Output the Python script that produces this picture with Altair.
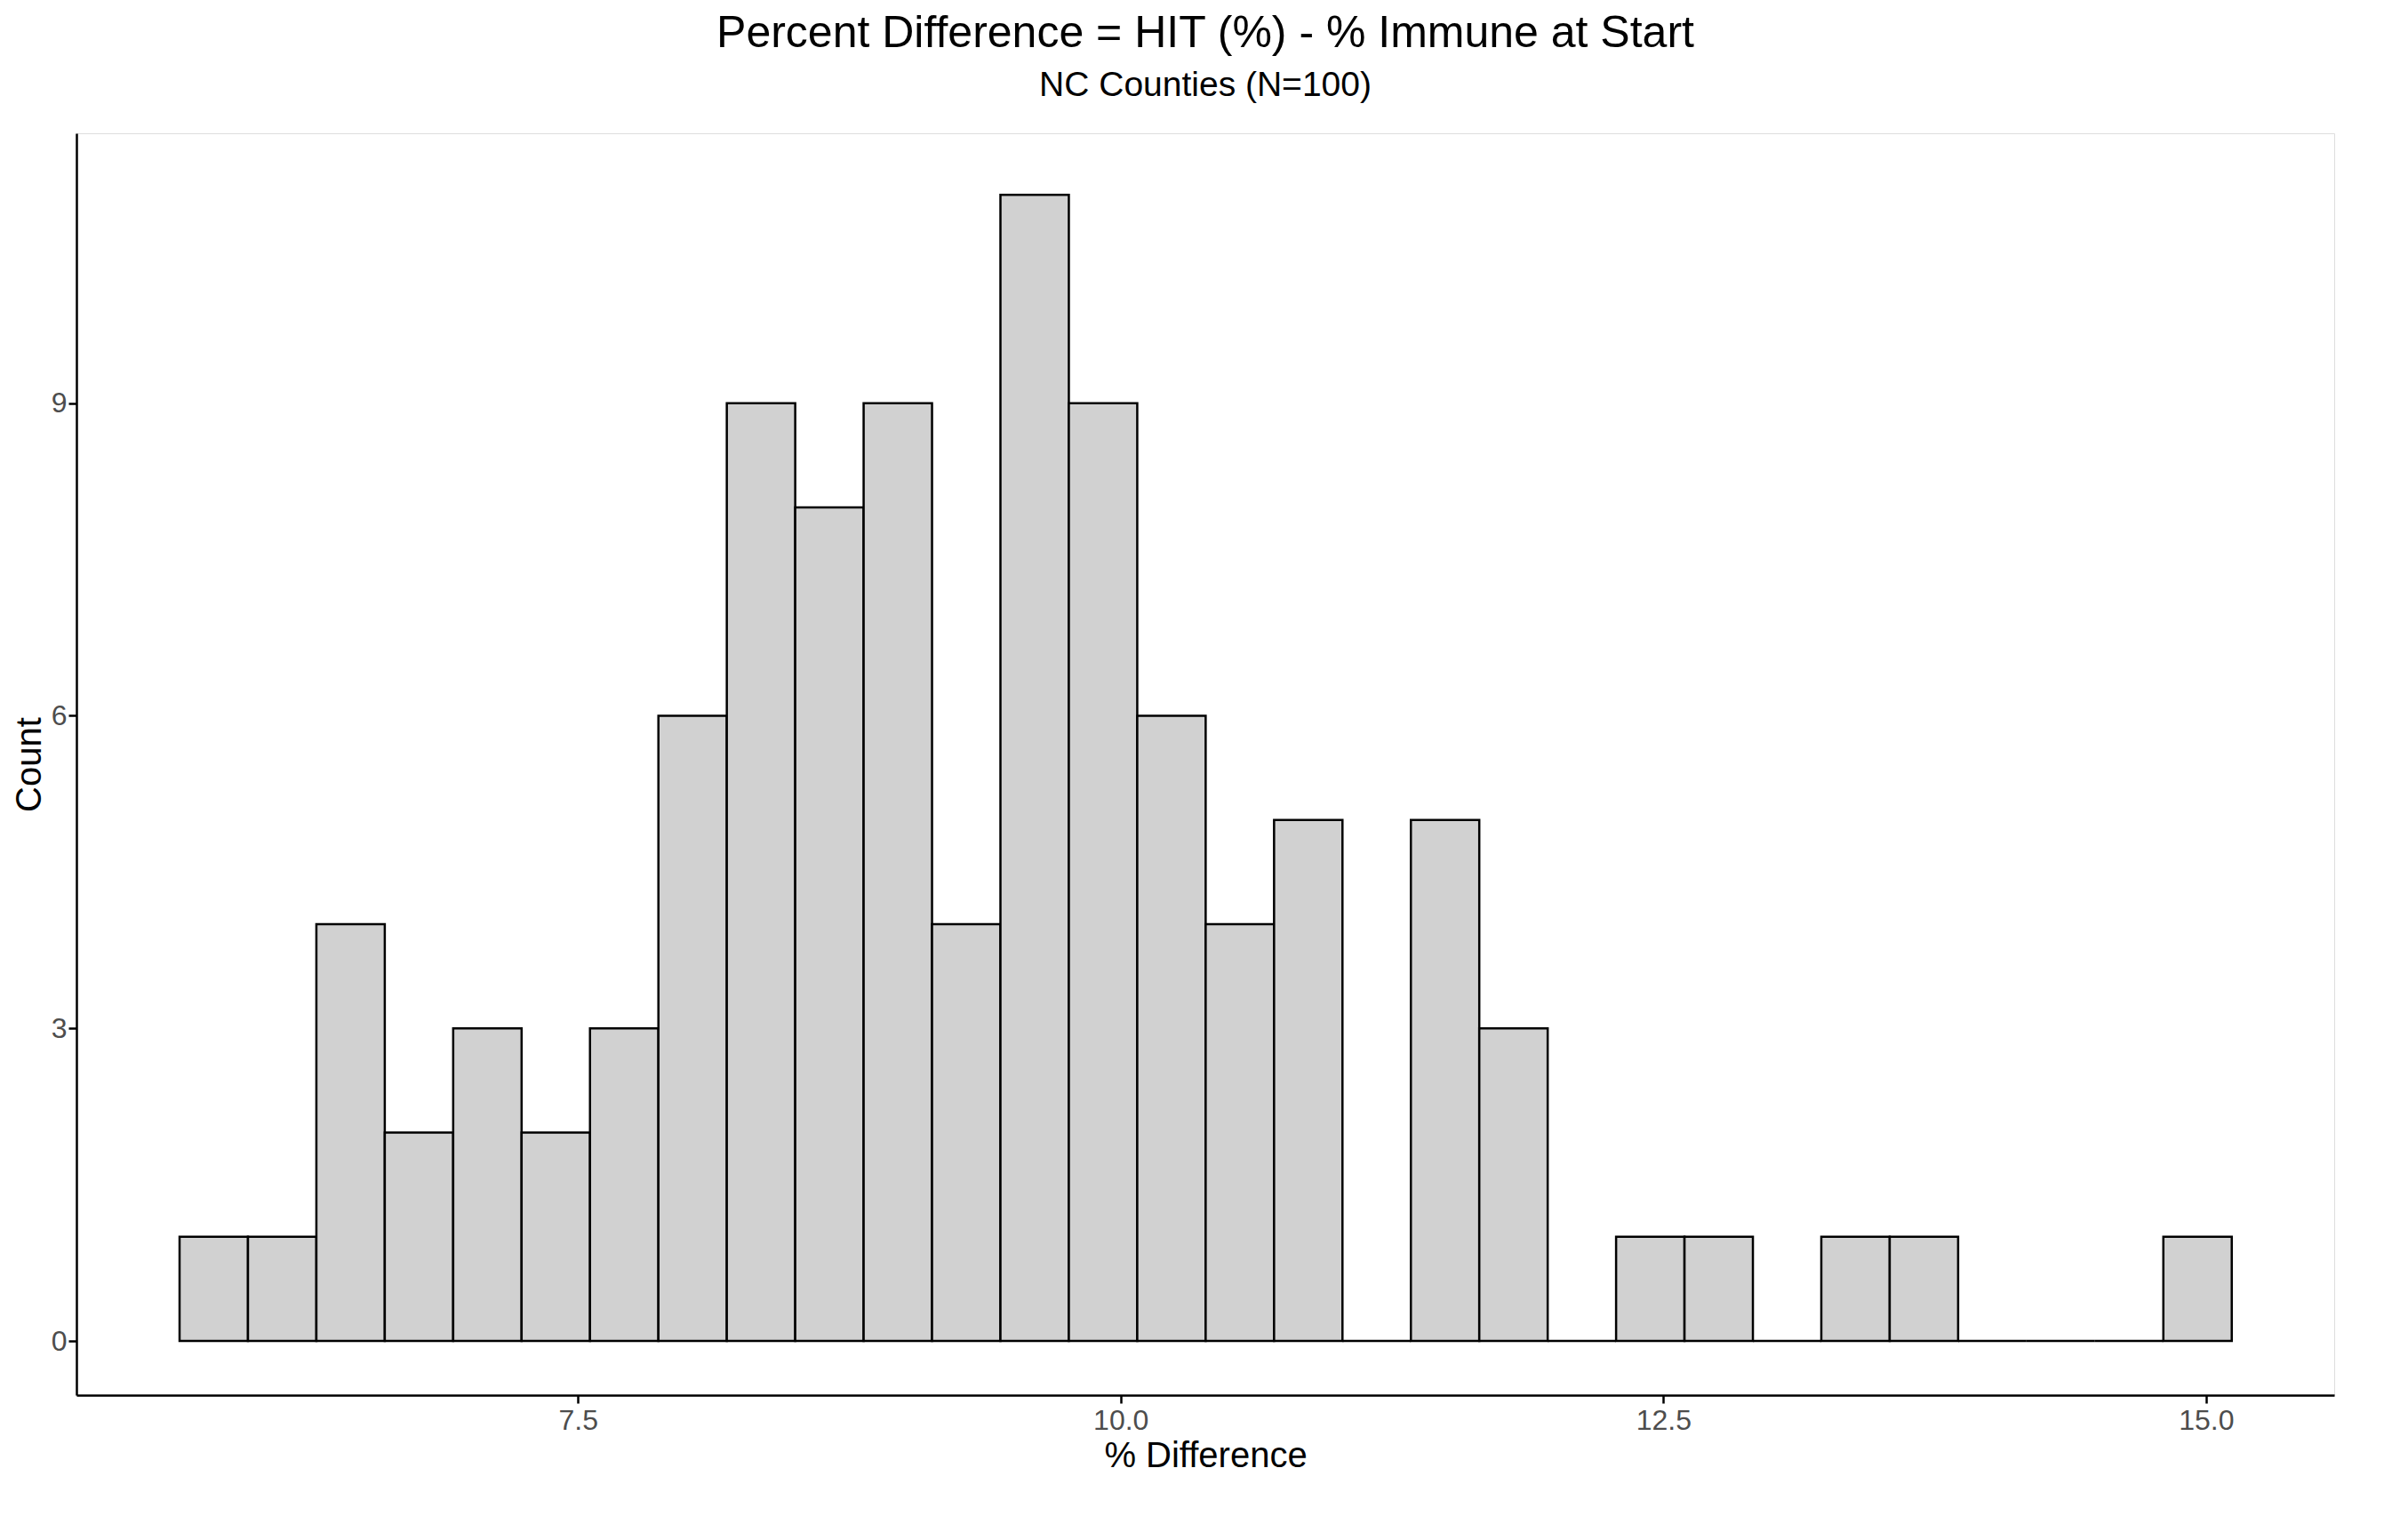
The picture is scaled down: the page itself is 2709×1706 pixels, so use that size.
import altair as alt
import pandas as pd

counts = [1,1,4,2,3,2,3,6,9,8,9,4,11,9,6,4,5,0,5,3,0,1,1,0,1,1,0,0,0,1]
bin_start = 5.665
bin_width = 0.3151

df = pd.DataFrame({
    "lo": [bin_start + i * bin_width for i in range(len(counts))],
    "hi": [bin_start + (i + 1) * bin_width for i in range(len(counts))],
    "count": counts,
})

F = "Liberation Sans"
chart = alt.Chart(df).mark_bar(fill="#d1d1d1", stroke="black", strokeWidth=2.5).encode(
    x=alt.X("lo:Q", scale=alt.Scale(domain=[5.19, 15.59], nice=False, zero=False),
            axis=alt.Axis(values=[7.5, 10.0, 12.5, 15.0], format=".1f", title="% Difference",
                          grid=False, domainColor="black", domainWidth=2.5, tickColor="black",
                          tickWidth=2.5, tickSize=9, labelFontSize=32, labelColor="#4d4d4d",
                          titleFontSize=40, titleFontWeight="normal", titleColor="black",
                          labelFont=F, titleFont=F, labelPadding=4)),
    x2="hi:Q",
    y=alt.Y("count:Q", scale=alt.Scale(domain=[-0.52, 11.59], nice=False, zero=False),
            axis=alt.Axis(values=[0, 3, 6, 9], title="Count", grid=False, domainColor="black",
                          domainWidth=2.5, tickColor="black", tickWidth=2.5, tickSize=9,
                          labelFontSize=32, labelColor="#4d4d4d", titleFontSize=40,
                          titleFontWeight="normal", titleColor="black", labelFont=F, titleFont=F)),
    y2=alt.Y2(datum=0),
).properties(
    width=2540, height=1420,
    title=alt.TitleParams("Percent Difference = HIT (%) - % Immune at Start",
                          subtitle="NC Counties (N=100)", fontSize=50, subtitleFontSize=39,
                          font=F, subtitleFont=F, fontWeight="normal", color="black",
                          subtitleColor="black", anchor="middle", subtitlePadding=14, offset=34),
).configure_view(stroke=None, strokeWidth=0).configure(background="white")

chart.save("out.html", embed_options={"renderer": "svg", "actions": False})
